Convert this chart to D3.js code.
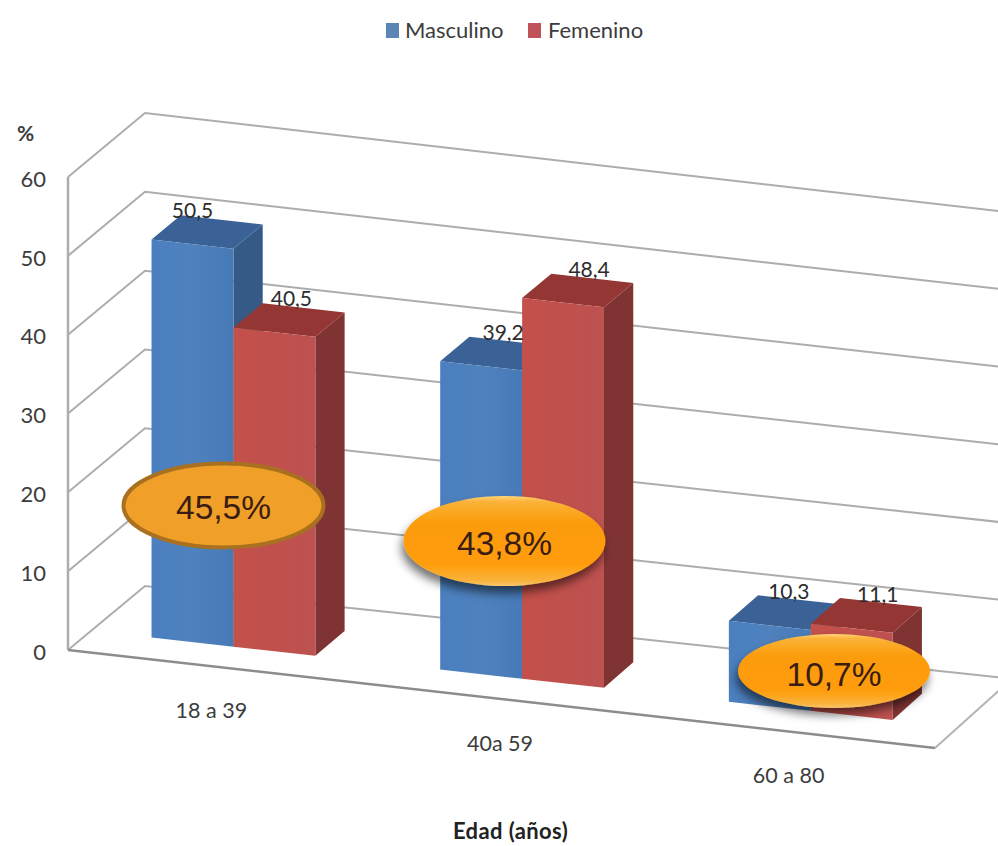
<!DOCTYPE html>
<html><head><meta charset="utf-8">
<script src="https://cdn.jsdelivr.net/npm/d3@7"></script>
<style>html,body{margin:0;background:#fff}svg{display:block}text{font-family:Lato,"Noto Sans",sans-serif;fill:#3c3c3c}</style>
</head><body><div id="c"></div>
<script>
const categories = ["18 a 39", "40a 59", "60 a 80"];
const seriesNames = ["Masculino", "Femenino"];
const masculino = [50.5, 39.2, 10.3];
const femenino = [40.5, 48.4, 11.1];
const totals = ["45,5%", "43,8%", "10,7%"];
const yTicks = [0, 10, 20, 30, 40, 50, 60];
const labelNudge = [[0, 17], [22, 26], [19, 26]];

const W = 998, H = 846;
const originX = 68, originY = 650, floorW = 867, depthX = 77, depthY = -64;
const svg = d3.select("#c").append("svg").attr("width", W).attr("height", H);
const defs = svg.append("defs");

const yScale = d3.scaleLinear().domain([0, 60]).range([originY, originY - 473]);
const xBand = d3.scaleBand().domain(categories).range([-2, floorW - 3]).paddingInner(0.4325).paddingOuter(0.2163);
const xSeries = d3.scaleBand().domain(seriesNames).range([0, xBand.bandwidth()]);
const slope = (d, v) => 0.113 - 0.006 * d + 0.008 * d * v / 60;
const P = (u, d, v) => [originX + u + depthX * d, yScale(v) + slope(d, v) * u + depthY * d];
const pts = a => a.map(p => p.join(",")).join(" ");

function hgrad(id, stops) {
  const g = defs.append("linearGradient").attr("id", id);
  stops.forEach(([o, c]) => g.append("stop").attr("offset", o).attr("stop-color", c));
}
hgrad("fb", [[0, "#4a7fc0"], [0.5, "#4f81bd"], [1, "#467ab6"]]);
hgrad("fr", [[0, "#c4504a"], [0.5, "#c0504d"], [1, "#bd5250"]]);
const gl = defs.append("linearGradient").attr("id", "oval").attr("x1", 0).attr("y1", 0).attr("x2", 0).attr("y2", 1);
[[0, "#ffd67a"], [0.06, "#fbb33a"], [0.3, "#fb9c0a"], [0.75, "#ff9c08"], [0.94, "#f9b23c"], [1, "#f6c76c"]]
  .forEach(([o, c]) => gl.append("stop").attr("offset", o).attr("stop-color", c));
const f = defs.append("filter").attr("id", "sh").attr("x", "-20%").attr("y", "-20%").attr("width", "140%").attr("height", "160%");
f.append("feDropShadow").attr("dx", -2).attr("dy", 7).attr("stdDeviation", 5).attr("flood-color", "#000").attr("flood-opacity", 0.55);

// walls + gridlines
const grid = svg.append("g").attr("fill", "none");
yTicks.forEach(v => {
  grid.append("polyline").attr("points", pts([P(0, 0, v), P(0, 1, v), P(floorW, 1, v)]))
    .attr("stroke", "#adadad").attr("stroke-width", 2);
});
const seg = (a, b, c, w) => grid.append("line").attr("x1", a[0]).attr("y1", a[1]).attr("x2", b[0]).attr("y2", b[1])
  .attr("stroke", c).attr("stroke-width", w);
seg(P(0, 0, 0), P(0, 0, 60), "#adadad", 2.5);
seg(P(floorW, 0, 0), P(floorW, 1, 0), "#b4b4b4", 2);
seg(P(0, 0, 0), P(floorW, 0, 0), "#8c8c8c", 2.5);

// bars
const d0 = 0.3, d1 = 0.68;
const colors = {
  Masculino: {front: "url(#fb)", top: "#3a6296", side: "#355a86"},
  Femenino: {front: "url(#fr)", top: "#943634", side: "#7f3433"}
};
const bars = svg.append("g");
categories.forEach((cat, i) => {
  [[seriesNames[0], masculino[i]], [seriesNames[1], femenino[i]]].forEach(([s, v]) => {
    const u0 = xBand(cat) + xSeries(s), u1 = u0 + xSeries.bandwidth(), c = colors[s];
    bars.append("polygon").attr("points", pts([P(u1,d0,0), P(u1,d1,0), P(u1,d1,v), P(u1,d0,v)])).attr("fill", c.side);
    bars.append("polygon").attr("points", pts([P(u0,d0,v), P(u0,d1,v), P(u1,d1,v), P(u1,d0,v)])).attr("fill", c.top);
    bars.append("polygon").attr("points", pts([P(u0,d0,0), P(u1,d0,0), P(u1,d0,v), P(u0,d0,v)])).attr("fill", c.front);
  });
});

// value labels
const fmt = v => String(v).replace(".", ",");
categories.forEach((cat, i) => {
  [masculino[i], femenino[i]].forEach((v, j) => {
    const u = xBand(cat) + xSeries(seriesNames[j]) + xSeries.bandwidth() / 2;
    const p = P(u, d0, v);
    svg.append("text").attr("x", p[0] + labelNudge[i][j]).attr("y", p[1] - 26)
      .attr("text-anchor", "middle").attr("font-size", 21).style("fill", "#2c2c2c").text(fmt(v));
  });
});

// y axis
const yAxis = svg.append("g").attr("transform", `translate(${originX},0)`)
  .call(d3.axisLeft(yScale).tickValues(yTicks).tickSize(0).tickPadding(22));
yAxis.select(".domain").remove();
yAxis.selectAll("text").attr("font-size", 22).attr("dy", "0.42em").style("font-family", "Lato").style("fill", "#3c3c3c");

// x labels
categories.forEach(cat => {
  const u = xBand(cat) + xBand.bandwidth() / 2, p = P(u, 0, 0);
  svg.append("text").attr("x", p[0] + 1).attr("y", p[1] + 52).attr("text-anchor", "middle").attr("font-size", 21.5).text(cat);
});

// ovals
const ovals = [
  {cx: 223.5, cy: 505.5, rx: 100, ry: 42, fill: "#f0a028", stroke: "#a9711f", sw: 4, filter: null, ty: 519},
  {cx: 504.5, cy: 541, rx: 101, ry: 45, fill: "url(#oval)", stroke: "none", sw: 0, filter: "url(#sh)", ty: 555},
  {cx: 834, cy: 671, rx: 96, ry: 37, fill: "url(#oval)", stroke: "none", sw: 0, filter: "url(#sh)", ty: 686}
];
ovals.forEach((o, i) => {
  svg.append("ellipse").attr("cx", o.cx).attr("cy", o.cy).attr("rx", o.rx).attr("ry", o.ry)
    .attr("fill", o.fill).attr("stroke", o.stroke).attr("stroke-width", o.sw).attr("filter", o.filter);
  svg.append("text").attr("x", o.cx).attr("y", o.ty).attr("text-anchor", "middle").attr("font-size", 33.5)
    .style("font-family", "'Liberation Sans',Arial,sans-serif").style("fill", "#3a1c12").text(totals[i]);
});

// legend
const legend = [[386, "#5b85b5", 405], [528, "#c0525a", 548]];
seriesNames.forEach((s, i) => {
  svg.append("rect").attr("x", legend[i][0]).attr("y", 23).attr("width", 13).attr("height", 15).attr("fill", legend[i][1]);
  svg.append("text").attr("x", legend[i][2]).attr("y", 38).attr("font-size", 22).text(s);
});

svg.append("text").attr("x", 17).attr("y", 141).attr("font-size", 21).attr("font-weight", 700).text("%");
svg.append("text").attr("x", 510.5).attr("y", 839).attr("text-anchor", "middle").attr("font-size", 22).attr("font-weight", 700)
  .attr("letter-spacing", 0.4).style("fill", "#222").text("Edad (años)");
</script></body></html>
